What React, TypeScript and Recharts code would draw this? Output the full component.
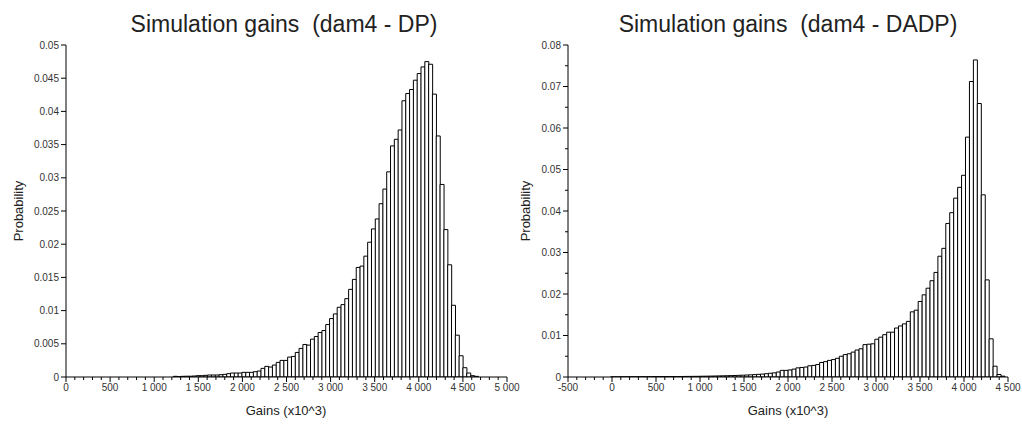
import React from 'react';
import { BarChart, Bar, XAxis, YAxis } from 'recharts';

// ---------- Data ----------
// Left histogram: dam4 - DP, 100 bins starting at 353, width 43.2
const LEFT_BIN_START = 353;
const LEFT_BIN_WIDTH = 43.2;
const LEFT_PROB = [
  0, 0, 0, 0, 0, 0, 0, 0, 0, 0,
  0, 0, 0, 0, 0, 0, 0, 0, 0, 0,
  0.0001, 0.00005, 0.0001, 0.00012, 0.00012, 0.00015, 0.0002, 0.0002, 0.00025, 0.0003,
  0.0003, 0.0003, 0.00035, 0.0004, 0.0005, 0.0006, 0.0006, 0.0006, 0.0007, 0.0007,
  0.0007, 0.0008, 0.0009, 0.0013, 0.0016, 0.0015, 0.0018, 0.0022, 0.0025, 0.0025,
  0.003, 0.0031, 0.0037, 0.0043, 0.0049, 0.0048, 0.0057, 0.0061, 0.0067, 0.007,
  0.0079, 0.0088, 0.0095, 0.0105, 0.0109, 0.0118, 0.0132, 0.0147, 0.0165, 0.0167,
  0.0182, 0.0203, 0.0223, 0.0238, 0.0261, 0.0283, 0.0309, 0.0348, 0.0358, 0.0372,
  0.0416, 0.0427, 0.0433, 0.0447, 0.0457, 0.0467, 0.0475, 0.0471, 0.0426, 0.0363,
  0.029, 0.0222, 0.0169, 0.0108, 0.0063, 0.0032, 0.0014, 0.0006, 0.0002, 0.0001,
];

// Right histogram: dam4 - DADP, 100 bins starting at -15, width 44.8
const RIGHT_BIN_START = -15;
const RIGHT_BIN_WIDTH = 44.8;
const RIGHT_PROB = [
  0.00002, 0.00002, 0.00003, 0.00003, 0.00004, 0.00004, 0.00005, 0.00005, 0.00006, 0.00006,
  0.00007, 0.00008, 0.00008, 0.00009, 0.0001, 0.0001, 0.00011, 0.00012, 0.00013, 0.00014,
  0.00015, 0.00016, 0.00017, 0.00019, 0.0002, 0.00022, 0.00024, 0.00026, 0.00028, 0.0003,
  0.00033, 0.00036, 0.0004, 0.00044, 0.00048, 0.00052, 0.00058, 0.00064, 0.0007, 0.0008,
  0.0009, 0.001, 0.0012, 0.0016, 0.0016, 0.0017, 0.0019, 0.0022, 0.0023, 0.0024,
  0.0027, 0.0028, 0.003, 0.0035, 0.0037, 0.004, 0.0042, 0.0045, 0.005, 0.0054,
  0.0056, 0.006, 0.0065, 0.0068, 0.0078, 0.0079, 0.008, 0.0091, 0.0096, 0.0102,
  0.0108, 0.0108, 0.0118, 0.0123, 0.0128, 0.0134, 0.0157, 0.0161, 0.0182, 0.0198,
  0.0214, 0.0232, 0.0252, 0.0291, 0.031, 0.037, 0.0396, 0.0431, 0.0457, 0.0486,
  0.0578, 0.0712, 0.0764, 0.0659, 0.0439, 0.0234, 0.0092, 0.0026, 0.0006, 0.0002,
];

const LEFT_X_MAJOR = [0, 500, 1000, 1500, 2000, 2500, 3000, 3500, 4000, 4500, 5000];
const RIGHT_X_MAJOR = [-500, 0, 500, 1000, 1500, 2000, 2500, 3000, 3500, 4000, 4500];
const LEFT_Y_TICKS = [0, 0.005, 0.01, 0.015, 0.02, 0.025, 0.03, 0.035, 0.04, 0.045, 0.05];
const RIGHT_Y_MAJOR = [0, 0.01, 0.02, 0.03, 0.04, 0.05, 0.06, 0.07, 0.08];

const LEFT_TITLE = 'Simulation gains  (dam4 - DP)';
const RIGHT_TITLE = 'Simulation gains  (dam4 - DADP)';
const X_LABEL = 'Gains (x10^3)';
const Y_LABEL = 'Probability';

// ---------- Helpers ----------
const FONT = '"Liberation Sans", Arial, Helvetica, sans-serif';

const buildBins = (start: number, width: number, values: number[]) =>
  values.map((p, i) => ({ x: start + width * (i + 0.5), p }));

const withMinor = (majors: number[], step: number) => {
  const out: number[] = [];
  for (let i = 0; i < majors.length - 1; i++) {
    const a = majors[i];
    const b = majors[i + 1];
    for (let v = a; v < b - 1e-9; v += step) out.push(Number(v.toFixed(6)));
  }
  out.push(majors[majors.length - 1]);
  return out;
};

const fmtX = (v: number) => {
  const s = Math.abs(v).toString();
  const withSpace = s.length > 3 ? s.slice(0, s.length - 3) + ' ' + s.slice(s.length - 3) : s;
  return (v < 0 ? '-' : '') + withSpace;
};
const fmtY = (v: number) => Number(v.toFixed(4)).toString();

const makeXTick = (majorSet: number[]) => (props: any) => {
  const { x, y, payload } = props;
  const v = payload.value;
  const major = majorSet.some((m) => Math.abs(m - v) < 1e-6);
  return (
    <g>
      <line x1={x} y1={y} x2={x} y2={y + (major ? 5 : 3)} stroke="#000" strokeWidth={1} />
      {major && (
        <text x={x} y={y + 7} dy="0.71em" textAnchor="middle" fontSize={10} fill="#333" fontFamily={FONT}>
          {fmtX(v)}
        </text>
      )}
    </g>
  );
};

const makeYTick = (majorSet: number[]) => (props: any) => {
  const { x, y, payload } = props;
  const v = payload.value;
  const major = majorSet.some((m) => Math.abs(m - v) < 1e-9);
  return (
    <g>
      <line x1={x - (major ? 5 : 3)} y1={y} x2={x} y2={y} stroke="#000" strokeWidth={1} />
      {major && (
        <text x={x - 7} y={y} dy="0.355em" textAnchor="end" fontSize={10} fill="#333" fontFamily={FONT}>
          {fmtY(v)}
        </text>
      )}
    </g>
  );
};

const leftData = buildBins(LEFT_BIN_START, LEFT_BIN_WIDTH, LEFT_PROB);
const rightData = buildBins(RIGHT_BIN_START, RIGHT_BIN_WIDTH, RIGHT_PROB);
const leftXTicks = withMinor(LEFT_X_MAJOR, 100);
const rightXTicks = withMinor(RIGHT_X_MAJOR, 100);
const rightYTicks = withMinor(RIGHT_Y_MAJOR, 0.005);

export default function App() {
  return (
    <div style={{ position: 'absolute', left: 0, top: 0, width: 1022, height: 425, background: '#fff', overflow: 'hidden' }}>
      <div style={{ position: 'absolute', left: 510, top: 0 }}>
        <BarChart width={512} height={425} data={rightData} margin={{ top: 45, right: 14, bottom: 0, left: 6 }} barCategoryGap={0} barGap={0}>
          <XAxis
            dataKey="x"
            type="number"
            domain={[-500, 4500]}
            ticks={rightXTicks}
            interval={0}
            height={48}
            tickSize={0}
            tickMargin={0}
            tickLine={false}
            axisLine={{ stroke: '#000', strokeWidth: 1 }}
            tick={makeXTick(RIGHT_X_MAJOR)}
            allowDataOverflow
          />
          <YAxis
            type="number"
            domain={[0, 0.08]}
            ticks={rightYTicks}
            interval={0}
            width={52}
            tickSize={0}
            tickMargin={0}
            tickLine={false}
            axisLine={{ stroke: '#000', strokeWidth: 1 }}
            tick={makeYTick(RIGHT_Y_MAJOR)}
            allowDataOverflow
          />
          <Bar dataKey="p" fill="#fff" stroke="#000" strokeWidth={1} isAnimationActive={false} />
        </BarChart>
      </div>
      <div style={{ position: 'absolute', left: 0, top: 0 }}>
        <BarChart width={530} height={425} data={leftData} margin={{ top: 45, right: 23, bottom: 0, left: 6 }} barCategoryGap={0} barGap={0}>
          <XAxis
            dataKey="x"
            type="number"
            domain={[0, 5000]}
            ticks={leftXTicks}
            interval={0}
            height={48}
            tickSize={0}
            tickMargin={0}
            tickLine={false}
            axisLine={{ stroke: '#000', strokeWidth: 1 }}
            tick={makeXTick(LEFT_X_MAJOR)}
            allowDataOverflow
          />
          <YAxis
            type="number"
            domain={[0, 0.05]}
            ticks={LEFT_Y_TICKS}
            interval={0}
            width={60}
            tickSize={0}
            tickMargin={0}
            tickLine={false}
            axisLine={{ stroke: '#000', strokeWidth: 1 }}
            tick={makeYTick(LEFT_Y_TICKS)}
            allowDataOverflow
          />
          <Bar dataKey="p" fill="#fff" stroke="#000" strokeWidth={1} isAnimationActive={false} />
        </BarChart>
      </div>
      <svg width={1022} height={425} style={{ position: 'absolute', left: 0, top: 0, pointerEvents: 'none' }}>
        <g fontFamily={FONT} fill="#222">
          <text x={284} y={32} fontSize={23} textAnchor="middle" style={{ whiteSpace: 'pre' }}>{LEFT_TITLE}</text>
          <text x={788} y={32} fontSize={23} textAnchor="middle" style={{ whiteSpace: 'pre' }}>{RIGHT_TITLE}</text>
          <text x={286} y={415} fontSize={13} textAnchor="middle">{X_LABEL}</text>
          <text x={788} y={415} fontSize={13} textAnchor="middle">{X_LABEL}</text>
          <text x={22.5} y={211} fontSize={13} textAnchor="middle" transform="rotate(-90 22.5 211)">{Y_LABEL}</text>
          <text x={530} y={211} fontSize={13} textAnchor="middle" transform="rotate(-90 530 211)">{Y_LABEL}</text>
        </g>
      </svg>
    </div>
  );
}
